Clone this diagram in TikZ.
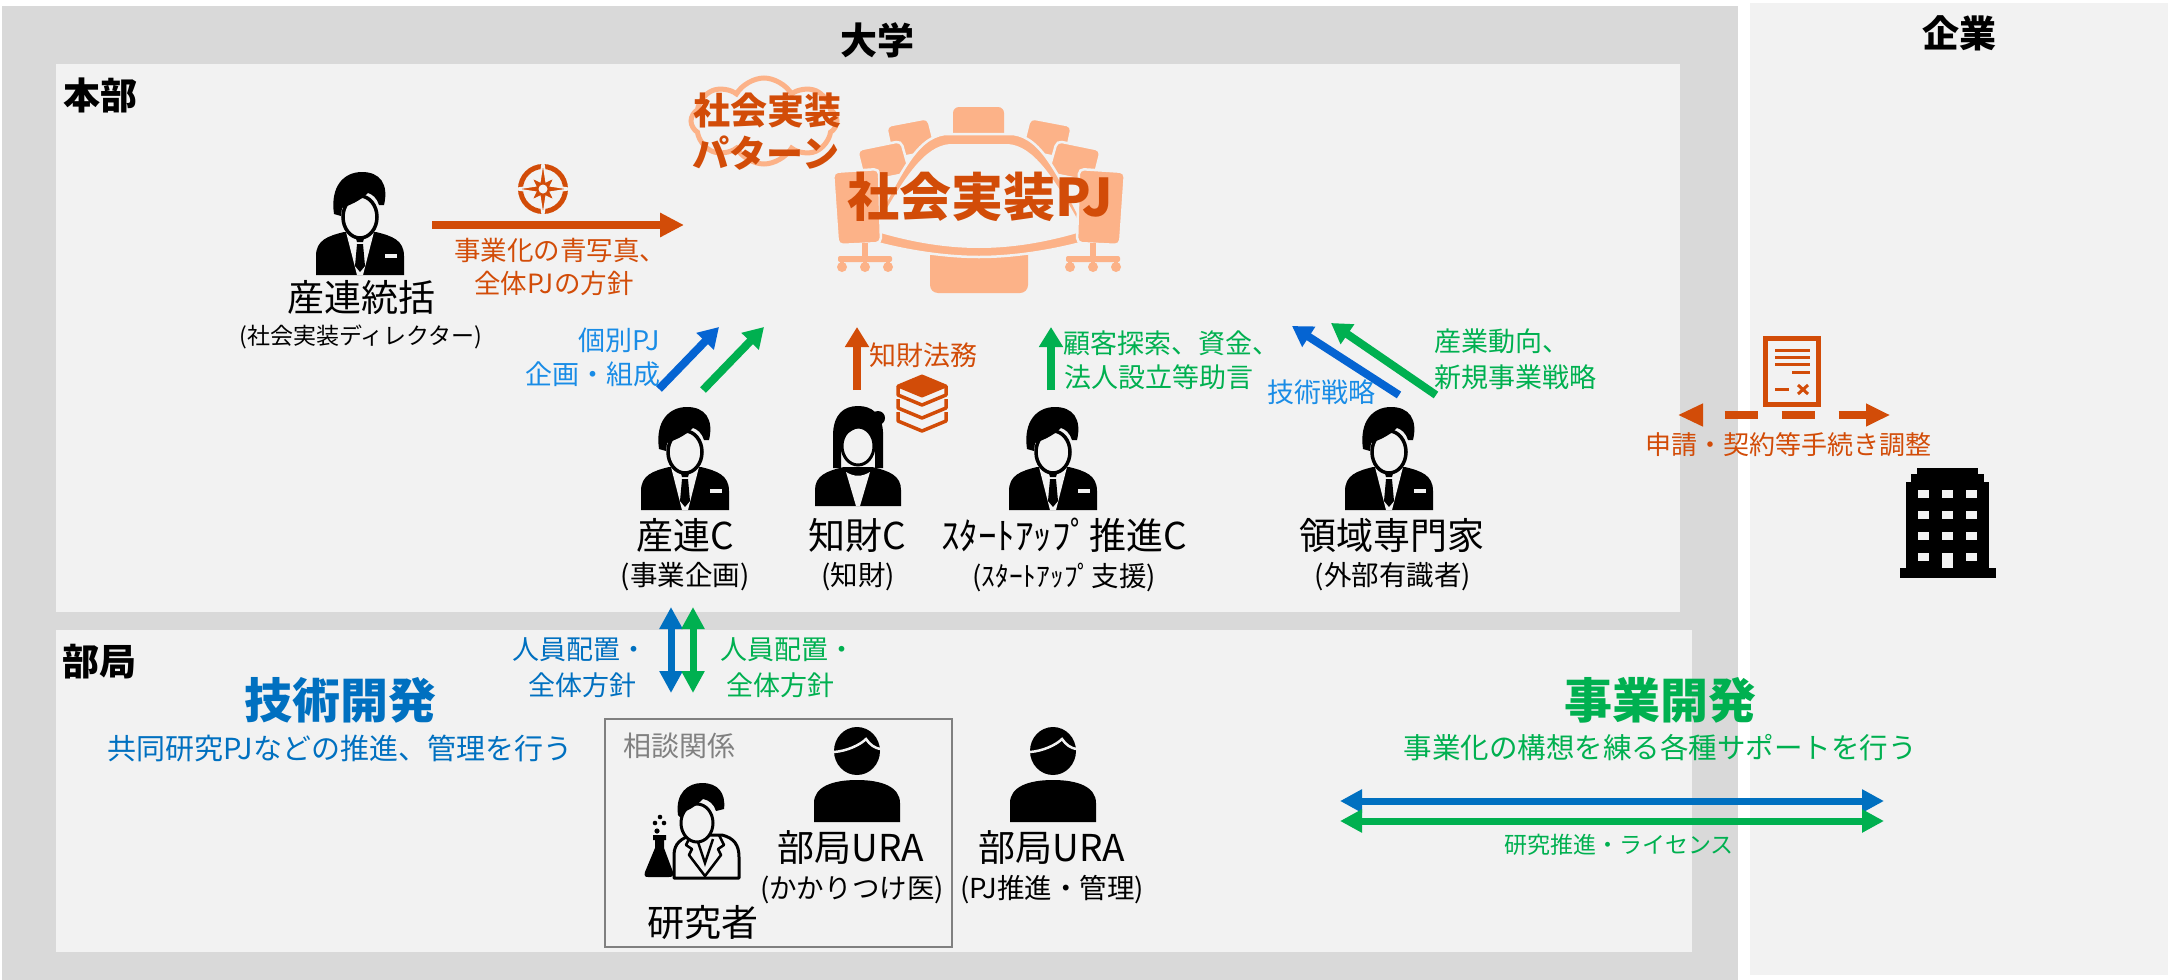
\documentclass[tikz,border=0pt]{standalone}
\usepackage{fontspec}
\setmainfont{Noto Sans CJK JP}
\usetikzlibrary{arrows.meta,shapes.symbols}

\definecolor{outerg}{HTML}{D9D9D9}
\definecolor{panel}{HTML}{F2F2F2}
\definecolor{ora}{RGB}{210,76,8}
\definecolor{peach}{RGB}{252,178,136}
\definecolor{skyb}{RGB}{25,140,230}
\definecolor{arrb}{RGB}{5,100,210}
\definecolor{deepb}{RGB}{0,112,192}
\definecolor{grn}{RGB}{0,176,80}
\definecolor{frameg}{HTML}{808080}

\newcommand{\tsz}[1]{\fontsize{#1}{#1}\selectfont}

\tikzset{
  lbl/.style={inner sep=0pt, outer sep=0pt},
  head/.style={lbl, font=\bfseries\tsz{37}},
  role/.style={lbl, font=\tsz{37}},
  rolesub/.style={lbl, font=\tsz{27.5}},
  note/.style={lbl, font=\tsz{27}},
  upar/.style={line width=8pt, -{Triangle[length=20pt,width=23pt]}},
  twoway/.style={line width=7pt, {Triangle[length=22pt,width=22pt]}-{Triangle[length=22pt,width=22pt]}},
  chair/.style={fill=peach, draw=panel, line width=2.5pt, rounded corners=5pt},
  % person in a suit, origin at top centre of the icon
  businessman/.pic={
    \fill[black] (-44,103) -- (-44,84) .. controls (-44,68) and (-32,64) .. (-16,60) -- (16,60) .. controls (32,64) and (44,68) .. (44,84) -- (44,103) -- cycle;
    \fill[panel] (-14,60) -- (14,60) -- (3,103) -- (-3,103) -- cycle;
    \fill[black] (-5,63) -- (5,63) -- (3,70) -- (-3,70) -- cycle;
    \fill[black] (-3,72) -- (3,72) -- (5,94) -- (0,100) -- (-5,94) -- cycle;
    \fill[panel] (25,82) rectangle (37,86);
    \filldraw[fill=panel, draw=black, line width=3.5pt] (0,45) ellipse [x radius=17, y radius=21];
    \fill[black] (-26,42) .. controls (-30,14) and (-16,0) .. (2,0) .. controls (20,0) and (29,12) .. (24,33) -- (19,33) .. controls (17,26) and (12,22) .. (8,21) .. controls (0,29) and (-10,33) .. (-18,36) -- (-19,44) -- cycle;
  },
  % woman in a jacket, origin at top centre
  businesswoman/.pic={
    \fill[black] (-43,100) -- (-43,84) .. controls (-43,70) and (-32,65) .. (-14,61) -- (14,61) .. controls (32,65) and (43,70) .. (43,84) -- (43,100) -- cycle;
    \fill[black] (-25,62) -- (-25,30) .. controls (-25,8) and (-14,0) .. (0,0) .. controls (14,0) and (24,8) .. (25,26) -- (25,62) -- (17,62) -- (17,40) -- (-17,40) -- (-17,62) -- cycle;
    \fill[black] (20,12) circle [radius=7];
    \fill[panel] (-12,66) .. controls (-4,71) and (4,71) .. (12,66) -- (2,100) -- (-2,100) -- cycle;
    \filldraw[fill=panel, draw=black, line width=3pt] (0,40) ellipse [x radius=16, y radius=19];
    \fill[black] (-17,36) .. controls (-12,26) and (-2,21) .. (8,21) .. controls (12,21) and (15,23) .. (17,28) -- (17,14) -- (-17,14) -- cycle;
  },
  % researcher with a flask, origin at top of the hair
  scientist/.pic={
    \filldraw[fill=panel, draw=black, line width=3pt, line join=round] (-26,95) -- (-26,72) .. controls (-26,60) and (-18,55) .. (-8,52) -- (22,52) .. controls (34,55) and (39,62) .. (39,74) -- (39,95) -- cycle;
    \draw[black, line width=2.5pt, line join=round] (-9,52) -- (-14,62) -- (-8,66) -- (-11,72) -- (5,93) -- (21,72) -- (18,66) -- (24,62) -- (19,52);
    \draw[black, line width=2.5pt] (-3,56) -- (5,80) -- (13,56);
    \filldraw[fill=panel, draw=black, line width=3pt] (-3,40) ellipse [x radius=16, y radius=19];
    \fill[black] (-22,32) .. controls (-25,10) and (-12,0) .. (2,0) .. controls (18,0) and (26,10) .. (24,26) -- (16,28) .. controls (14,21) and (9,17) .. (3,16) .. controls (-3,22) and (-10,27) .. (-17,29) -- (-18,36) -- cycle;
    \fill[black] (-47,52) -- (-34,52) -- (-34,57) -- (-36,57) -- (-36,65) -- (-27,89) .. controls (-26,93) and (-28,94) .. (-31,94) -- (-52,94) .. controls (-55,94) and (-56,93) .. (-55,89) -- (-45,65) -- (-45,57) -- (-47,57) -- cycle;
    \fill[black] (-40,34) circle [radius=2.3];
    \fill[black] (-45,40) circle [radius=2.3];
    \fill[black] (-36,40) circle [radius=2.3];
    \fill[black] (-43,48) circle [radius=2.6];
  },
  % plain silhouette, origin at centre of the head
  silhouette/.pic={
    \fill[black] (0,0) ellipse [x radius=23, y radius=24];
    \draw[panel, line width=2.5pt] (-23,1) .. controls (-10,0) and (3,-6) .. (9,-12) .. controls (13,-6) and (18,-3) .. (23,-2);
    \fill[black] (-43,71) -- (-43,52) .. controls (-43,36) and (-25,29) .. (0,29) .. controls (25,29) and (43,36) .. (43,52) -- (43,71) -- cycle;
  }
}

\begin{document}
\begin{tikzpicture}[x=1pt, y=-1pt]
\useasboundingbox (0,0) rectangle (2177,980);
\fill[white] (0,0) rectangle (2177,980);

% frames
\fill[outerg] (2,6) rectangle (1738,980);
\fill[panel] (1750,3) rectangle (2168,975);
\fill[panel] (56,64) rectangle (1680,612);
\fill[panel] (56,630) rectangle (1692,952);

\node[head] (daigaku) at (877,40) {大学};
\node[head] (kigyo) at (1959,33) {企業};
\node[head, anchor=west] (honbu) at (63,95) {本部};
\node[head, anchor=west] (bukyoku) at (62,662) {部局};

% ---- social implementation project: meeting table ----
\fill[peach, rounded corners=6pt] (953,107) rectangle (1004,140);
\filldraw[chair] (886,126) -- (928,118) -- (936,150) -- (893,159) -- cycle;
\filldraw[chair] (1072,126) -- (1030,118) -- (1022,150) -- (1065,159) -- cycle;
\filldraw[chair] (857,150) -- (901,141) -- (910,173) -- (865,182) -- cycle;
\filldraw[chair] (1101,150) -- (1057,141) -- (1048,173) -- (1093,182) -- cycle;
\fill[peach, rounded corners=8pt] (930,240) rectangle (1028,293);
\filldraw[fill=peach, draw=panel, line width=2.5pt] (866,240) .. controls (900,175) and (915,138) .. (945,134) -- (1013,134) .. controls (1043,138) and (1058,175) .. (1092,240) .. controls (1050,252) and (1010,257) .. (979,257) .. controls (948,257) and (908,252) .. (866,240) -- cycle;
\fill[panel] (874,231) .. controls (905,175) and (925,146) .. (950,144) -- (1008,144) .. controls (1033,146) and (1053,175) .. (1084,231) .. controls (1045,243) and (1010,248) .. (979,248) .. controls (948,248) and (913,243) .. (874,231) -- cycle;
\filldraw[chair] (833,172) -- (879,169) -- (881,243) -- (838,245) -- cycle;
\filldraw[chair] (1125,172) -- (1079,169) -- (1077,243) -- (1120,245) -- cycle;
\foreach \cx/\s in {865/1, 1093/-1}{
  \fill[peach] (\cx-3*\s,243) rectangle (\cx+3*\s,259);
  \fill[peach, rounded corners=2pt] (\cx-27,256) rectangle (\cx+27,262);
  \foreach \f in {-23,0,23}{
    \fill[peach] (\cx+\f-2,260) rectangle (\cx+\f+2,266);
    \fill[peach] (\cx+\f,267) circle [radius=5];
  }
}
\node[lbl, font=\bfseries\tsz{52}, text=ora] (pj) at (980,197) {社会実装PJ};

% pattern cloud
\node[cloud, cloud puffs=8, cloud puff arc=120, aspect=1.7, draw=peach, line width=5pt,
      minimum width=146pt, minimum height=86pt, inner sep=0pt] (cloud) at (764,121) {};
\node[lbl, font=\bfseries\tsz{37}, text=ora] (pat1) at (767,110) {社会実装};
\node[lbl, font=\bfseries\tsz{37}, text=ora] (pat2) at (766,153) {パターン};

% ---- director ----
\pic (dirpic) at (360,172) {businessman};
\node[role] (dir) at (361,298) {産連統括};
\node[lbl, font=\tsz{23}] (dirsub) at (361,337) {(社会実装ディレクター)};

% compass and policy arrow
\begin{scope}[shift={(543,189)}]
  \draw[ora, line width=5pt] (0,0) circle [radius=22.5];
  \filldraw[fill=ora, draw=panel, line width=2pt, line join=miter]
    (0:29) -- (22.5:8.5) -- (45:17) -- (67.5:8.5) -- (90:29) -- (112.5:8.5) -- (135:17) -- (157.5:8.5)
    -- (180:29) -- (202.5:8.5) -- (225:17) -- (247.5:8.5) -- (270:29) -- (292.5:8.5) -- (315:17) -- (337.5:8.5) -- cycle;
  \fill[panel] (0,0) circle [radius=4.5];
\end{scope}
\coordinate (polA) at (432,225);
\coordinate (polB) at (684,225);
\draw[ora, line width=8pt, -{Triangle[length=24pt,width=23pt]}] (polA) -- (polB);
\node[lbl, font=\tsz{26.5}, text=ora] (pol1) at (560,250) {事業化の青写真、};
\node[lbl, font=\tsz{26.5}, text=ora] (pol2) at (554,283) {全体PJの方針};

% ---- centres row ----
\pic (sanpic) at (685,407) {businessman};
\pic (chipic) at (858,406) {businesswoman};
\pic (stpic) at (1053,407) {businessman};
\pic (expic) at (1389,407) {businessman};

\node[role] (sanren) at (685,535) {産連C};
\node[rolesub] (sanrensub) at (685,577) {(事業企画)};
\node[role] (chizai) at (857,535) {知財C};
\node[rolesub] (chizaisub) at (858,577) {(知財)};
\node[role] (startup) at (1064,535) {ｽﾀｰﾄｱｯﾌﾟ推進C};
\node[rolesub] (startupsub) at (1064,577) {(ｽﾀｰﾄｱｯﾌﾟ支援)};
\node[role] (expert) at (1392,535) {領域専門家};
\node[rolesub] (expertsub) at (1393,577) {(外部有識者)};

% upward support arrows
\coordinate (b1s) at (659,389); \coordinate (b1e) at (719,327);
\coordinate (g1s) at (703,390); \coordinate (g1e) at (764,327);
\coordinate (os) at (857,390);  \coordinate (oe) at (857,327);
\coordinate (g2s) at (1051,390); \coordinate (g2e) at (1051,327);
\coordinate (b3s) at (1399,395); \coordinate (b3e) at (1292,326);
\coordinate (g3s) at (1436,395); \coordinate (g3e) at (1331,323);
\draw[upar, arrb] (b1s) -- (b1e);
\draw[upar, grn] (g1s) -- (g1e);
\draw[upar, ora] (os) -- (oe);
\draw[upar, grn] (g2s) -- (g2e);
\draw[upar, arrb] (b3s) -- (b3e);
\draw[upar, grn] (g3s) -- (g3e);

\node[note, text=skyb, anchor=east] (k1) at (660,340) {個別PJ};
\node[note, text=skyb, anchor=east] (k2) at (660,374) {企画・組成};
\node[note, text=ora, anchor=west] (ip) at (869,355) {知財法務};
\node[note, text=grn, anchor=west] (c1) at (1063,343) {顧客探索、資金、};
\node[note, text=grn, anchor=west] (c2) at (1064,377) {法人設立等助言};
\node[note, text=skyb] (ts) at (1321,392) {技術戦略};
\node[note, text=grn, anchor=west] (m1) at (1434,341) {産業動向、};
\node[note, text=grn, anchor=west] (m2) at (1434,377) {新規事業戦略};

% stack of books
\foreach \o in {0,13,26}{
  \draw[ora, line width=3.5pt, line join=round] (898,386+\o) -- (898,395+\o) -- (922,405+\o) -- (946,395+\o) -- (946,386+\o);
}
\filldraw[fill=ora, draw=ora, line width=3pt, line join=round] (898,386) -- (922,376) -- (946,386) -- (922,396) -- cycle;

% ---- company side ----
\draw[ora, line width=4.5pt] (1765.5,338.5) rectangle (1818.5,404.5);
\draw[ora, line width=3pt] (1775,350) -- (1810,350) (1775,357) -- (1810,357) (1775,364) -- (1810,364) (1792,372) -- (1810,372) (1775,389) -- (1789,389);
\draw[ora, line width=3pt] (1798,385) -- (1808,394) (1798,394) -- (1808,385);
\coordinate (dl) at (1678.5,415);
\coordinate (dr) at (1889.5,415);
\fill[ora] (dl) -- ++(24.5,-11.7) -- ++(0,23.4) -- cycle;
\fill[ora] (dr) -- ++(-23.5,-11.7) -- ++(0,23.4) -- cycle;
\draw[ora, line width=8pt, dash pattern=on 33pt off 24pt, dash phase=35.5pt] (1703,415) -- (1866,415);
\node[lbl, font=\tsz{26}, text=ora] (proc) at (1788,445) {申請・契約等手続き調整};

% office building
\fill[black] (1899.5,568) rectangle (1996,578);
\fill[black] (1906,482) rectangle (1989,568);
\fill[black] (1911,474) rectangle (1983.6,482);
\fill[black] (1916.6,468) rectangle (1978,474);
\foreach \wx in {1918,1942,1966}{
  \foreach \wy in {490,511,532}{
    \fill[panel] (\wx,\wy) rectangle (\wx+11,\wy+8);
  }
}
\fill[panel] (1918,553) rectangle (1929,561);
\fill[panel] (1966,553) rectangle (1977,561);
\fill[panel] (1942,553) rectangle (1953,568);

% ---- faculty level ----
\coordinate (vb1) at (671,607); \coordinate (vb2) at (671,693);
\coordinate (vg1) at (693,607); \coordinate (vg2) at (693,693);
\draw[twoway, deepb] (vb1) -- (vb2);
\draw[twoway, grn] (vg1) -- (vg2);
\node[note, text=deepb, anchor=east] (s1) at (647,650) {人員配置・};
\node[note, text=deepb, anchor=east] (s2) at (636,685) {全体方針};
\node[note, text=grn, anchor=west] (s3) at (720,650) {人員配置・};
\node[note, text=grn, anchor=west] (s4) at (726,685) {全体方針};

\node[lbl, font=\bfseries\tsz{48}, text=deepb] (tech) at (340,700) {技術開発};
\node[lbl, font=\tsz{29}, text=deepb] (techsub) at (340,748) {共同研究PJなどの推進、管理を行う};

\draw[frameg, line width=2.5pt] (605,719) rectangle (952,947);
\node[lbl, font=\tsz{28}, text=frameg, anchor=west] (soudan) at (623,746) {相談関係};
\pic (respic) at (700,783) {scientist};
\node[role] (res) at (703,922) {研究者};
\pic (ura1pic) at (857,751) {silhouette};
\node[role] (ura1) at (851,848) {部局URA};
\node[rolesub] (ura1sub) at (852,890) {(かかりつけ医)};
\pic (ura2pic) at (1053,751) {silhouette};
\node[role] (ura2) at (1052,848) {部局URA};
\node[rolesub] (ura2sub) at (1052,890) {(PJ推進・管理)};

\node[lbl, font=\bfseries\tsz{48}, text=grn] (biz) at (1660,700) {事業開発};
\node[lbl, font=\tsz{28.5}, text=grn] (bizsub) at (1660,748) {事業化の構想を練る各種サポートを行う};
\coordinate (hb1) at (1340,801); \coordinate (hb2) at (1884,801);
\coordinate (hg1) at (1340,821); \coordinate (hg2) at (1884,821);
\draw[twoway, deepb] (hb1) -- (hb2);
\draw[twoway, grn] (hg1) -- (hg2);
\node[lbl, font=\tsz{23}, text=grn] (lic) at (1619,845) {研究推進・ライセンス};
\end{tikzpicture}
\end{document}
